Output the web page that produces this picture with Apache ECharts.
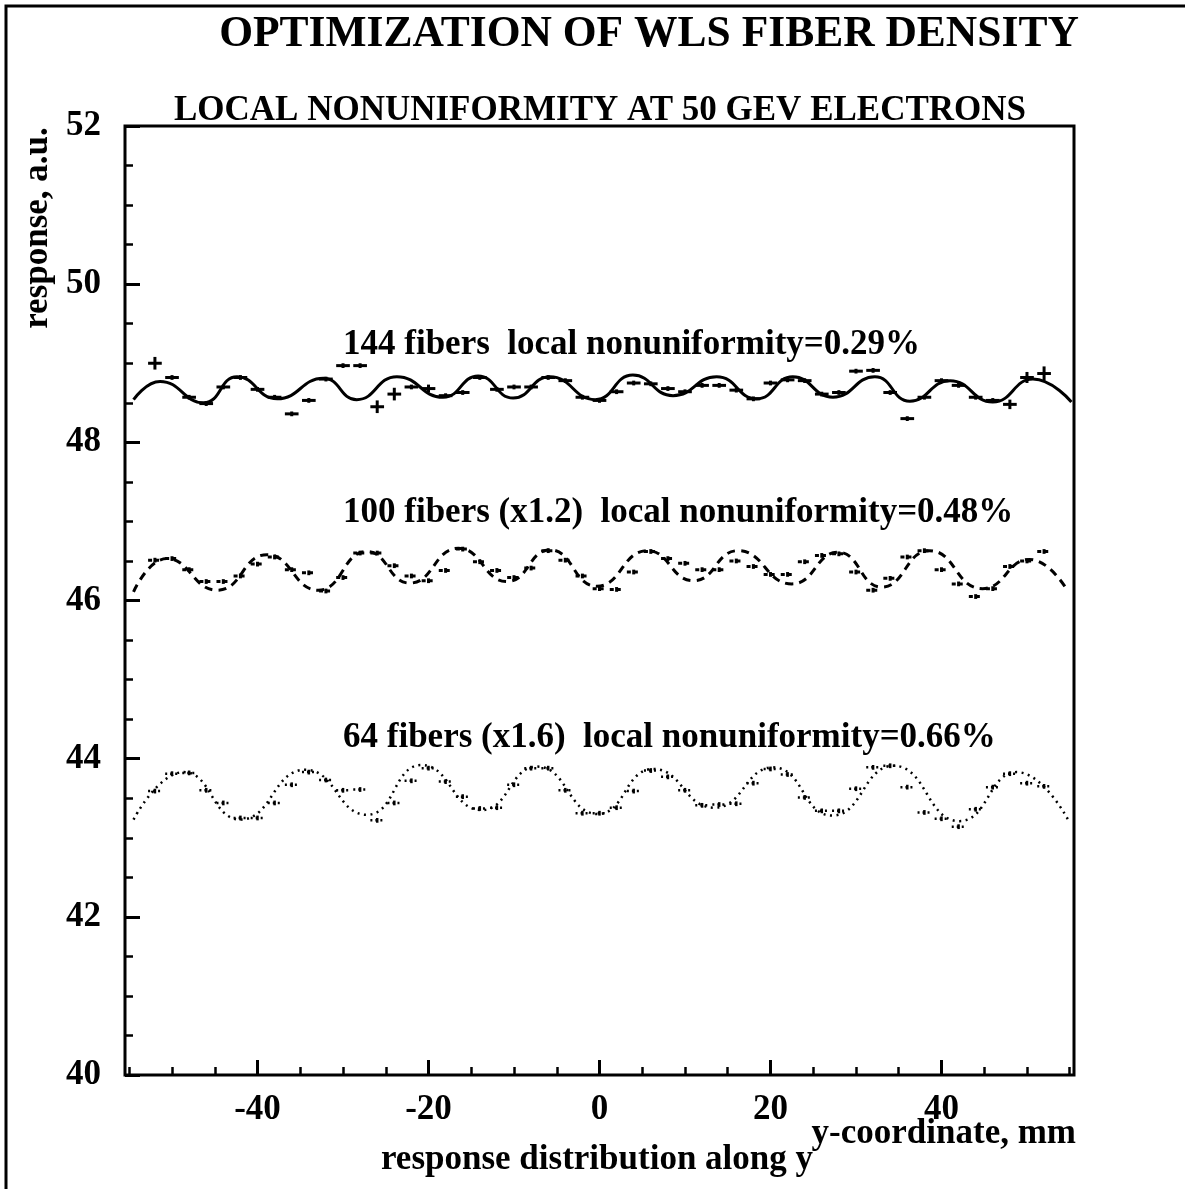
<!DOCTYPE html>
<html>
<head>
<meta charset="utf-8">
<script src="https://cdn.jsdelivr.net/npm/echarts@6/dist/echarts.min.js"></script>
<style>
html,body{margin:0;padding:0;background:#fff;}
#c{width:1185px;height:1189px;}
</style>
</head>
<body>
<div id="c"></div>
<script>
// ---------------- data ----------------
const yCoord = [-52,-50,-48,-46,-44,-42,-40,-38,-36,-34,-32,-30,-28,-26,-24,-22,-20,-18,-16,-14,-12,-10,-8,-6,-4,-2,0,
                 2,4,6,8,10,12,14,16,18,20,22,24,26,28,30,32,34,36,38,40,42,44,46,48,50,52];

const resp144 = [49.00,48.82,48.57,48.49,48.70,48.82,48.67,48.57,48.36,48.53,48.80,48.97,48.97,48.45,48.61,48.70,48.68,48.59,48.63,48.82,48.67,48.70,48.70,48.82,48.78,48.57,48.53,
                 48.64,48.75,48.74,48.68,48.64,48.72,48.72,48.66,48.55,48.75,48.79,48.78,48.61,48.63,48.90,48.91,48.63,48.30,48.57,48.78,48.72,48.57,48.53,48.48,48.82,48.87];
const err144  = [0.08,0.03,0.03,0.03,0.03,0.03,0.03,0.03,0.03,0.03,0.03,0.03,0.03,0.08,0.08,0.03,0.05,0.03,0.03,0.03,0.03,0.03,0.03,0.03,0.03,0.03,0.03,
                 0.03,0.03,0.03,0.03,0.03,0.03,0.03,0.03,0.03,0.03,0.03,0.03,0.03,0.03,0.03,0.03,0.03,0.03,0.03,0.03,0.03,0.03,0.03,0.06,0.07,0.09];

const resp100 = [46.51,46.53,46.39,46.24,46.24,46.31,46.46,46.55,46.39,46.35,46.12,46.29,46.60,46.60,46.44,46.31,46.25,46.38,46.65,46.49,46.38,46.29,46.41,46.63,46.51,46.31,46.15,
                 46.14,46.36,46.62,46.53,46.47,46.39,46.39,46.50,46.43,46.33,46.33,46.49,46.57,46.59,46.36,46.13,46.28,46.55,46.63,46.39,46.21,46.05,46.15,46.43,46.50,46.62];
const err100 = 0.03;

const resp64 = [43.59,43.81,43.82,43.60,43.44,43.25,43.25,43.44,43.67,43.83,43.73,43.60,43.61,43.22,43.44,43.72,43.88,43.71,43.52,43.37,43.38,43.67,43.88,43.88,43.60,43.31,43.31,
                43.38,43.59,43.85,43.77,43.60,43.41,43.42,43.43,43.69,43.87,43.80,43.51,43.34,43.34,43.62,43.89,43.91,43.64,43.32,43.24,43.14,43.36,43.64,43.81,43.69,43.65];
const err64 = 0.03;

// fitted curves (read at extrema)
const fit144X = [-54.5,-51.4,-46.3,-42.4,-37.7,-32.3,-28.4,-23.7,-18.3,-14.2,-10.1,-5.8,-0.5,3.9,8.6,13.7,18.4,22.6,27.3,32.2,36.3,41.0,46.0,50.7,55.2];
const fit144Y = [48.54,48.77,48.50,48.83,48.55,48.81,48.54,48.83,48.57,48.84,48.56,48.83,48.54,48.85,48.59,48.83,48.55,48.83,48.57,48.83,48.52,48.78,48.51,48.80,48.51];

const fit100X = [-54.5,-50.6,-44.7,-38.9,-32.9,-27.2,-22.2,-16.5,-10.8,-5.8,-0.3,5.6,11.0,16.2,22.5,27.9,33.0,38.6,44.8,50.3,54.6];
const fit100Y = [46.11,46.53,46.13,46.58,46.13,46.62,46.22,46.66,46.24,46.64,46.18,46.63,46.25,46.63,46.21,46.61,46.17,46.63,46.15,46.52,46.15];

const fit64X = [-54.5,-48.6,-42.0,-34.4,-27.2,-20.8,-13.8,-7.3,-0.2,6.3,13.4,20.3,27.2,34.4,42.1,48.8,54.9];
const fit64Y = [43.23,43.83,43.23,43.86,43.29,43.92,43.35,43.90,43.30,43.87,43.38,43.89,43.28,43.91,43.21,43.83,43.21];

const binHalfWidth = 0.8;   // mm

// axes
const xMin = -55.5, xMax = 55.5;
const xMajorTicks = [-40,-20,0,20,40];
const xMinorTicks = [-55,-50,-45,-40,-35,-30,-25,-20,-15,-10,-5,0,5,10,15,20,25,30,35,40,45,50,55];
const yMin = 40, yMax = 52, yStep = 2;

// texts
const titleText = 'OPTIMIZATION OF WLS FIBER DENSITY';
const subtitleText = 'LOCAL NONUNIFORMITY AT 50 GEV ELECTRONS';
const xAxisTitle = 'y-coordinate, mm';
const xAxisSub = 'response distribution along y';
const yAxisTitle = 'response, a.u.';
const label144 = '144 fibers  local nonuniformity=0.29%';
const label100 = '100 fibers (x1.2)  local nonuniformity=0.48%';
const label64  = '64 fibers (x1.6)  local nonuniformity=0.66%';

// ---------------- chart ----------------
const FONT = '"Liberation Serif", "Times New Roman", Times, serif';
const chart = echarts.init(document.getElementById('c'), null, {renderer: 'canvas'});

function zip(xs, ys) { return xs.map((x, i) => [x, ys[i]]); }
function pts(xs, ys, es) { return xs.map((x, i) => [x, ys[i], Array.isArray(es) ? es[i] : es]); }

function barRenderer(dash, lw) {
  return function (params, api) {
    const x = api.value(0), y = api.value(1), e = api.value(2);
    const l = api.coord([x - binHalfWidth, y]);
    const r = api.coord([x + binHalfWidth, y]);
    const t = api.coord([x, y + e]);
    const b = api.coord([x, y - e]);
    const hs = {stroke: '#000', lineWidth: lw, fill: null};
    const vs = {stroke: '#000', lineWidth: lw, fill: null};
    if (dash) { hs.lineDash = dash; }
    return {
      type: 'group',
      children: [
        {type: 'line', shape: {x1: l[0], y1: l[1], x2: r[0], y2: r[1]}, style: hs},
        {type: 'line', shape: {x1: t[0], y1: t[1], x2: b[0], y2: b[1]}, style: vs}
      ]
    };
  };
}

function txt(text, x, y, size, align, extra) {
  return Object.assign({
    type: 'text', x: x, y: y, silent: true, z: 10,
    style: {text: text, fill: '#000', font: 'bold ' + size + 'px ' + FONT, align: align, verticalAlign: 'middle'}
  }, extra || {});
}

const option = {
  animation: false,
  backgroundColor: '#fff',
  grid: {left: 125, right: 111, top: 126, bottom: 114, show: true, borderColor: '#000', borderWidth: 3, backgroundColor: 'transparent'},
  xAxis: [
    {
      type: 'value', min: xMin, max: xMax, position: 'bottom',
      axisLine: {show: false, onZero: false},
      splitLine: {show: false},
      axisTick: {show: true, inside: true, length: 15, customValues: xMajorTicks, lineStyle: {color: '#000', width: 3}},
      axisLabel: {show: true, customValues: xMajorTicks, margin: 17, color: '#000', fontSize: 35, fontWeight: 'bold', fontFamily: FONT}
    },
    {
      type: 'value', min: xMin, max: xMax, position: 'bottom',
      axisLine: {show: false, onZero: false},
      splitLine: {show: false},
      axisTick: {show: true, inside: true, length: 8, customValues: xMinorTicks, lineStyle: {color: '#000', width: 2.5}},
      axisLabel: {show: false}
    }
  ],
  yAxis: [
    {
      type: 'value', min: yMin, max: yMax, interval: yStep, position: 'left',
      axisLine: {show: false, onZero: false},
      splitLine: {show: false},
      axisTick: {show: true, inside: true, length: 15, lineStyle: {color: '#000', width: 3}},
      minorTick: {show: true, splitNumber: 4, length: 8, lineStyle: {color: '#000', width: 2.5}},
      axisLabel: {margin: 24, color: '#000', fontSize: 35, fontWeight: 'bold', fontFamily: FONT}
    }
  ],
  series: [
    {type: 'line', data: zip(fit144X, fit144Y), smooth: 0.5, showSymbol: false, silent: true,
     lineStyle: {color: '#000', width: 3, type: 'solid'}},
    {type: 'custom', data: pts(yCoord, resp144, err144), encode: {x: 0, y: 1}, renderItem: barRenderer(null, 3), silent: true},

    {type: 'line', data: zip(fit100X, fit100Y), smooth: 0.5, showSymbol: false, silent: true,
     lineStyle: {color: '#000', width: 3, type: [8, 6]}},
    {type: 'custom', data: pts(yCoord, resp100, err100), encode: {x: 0, y: 1}, renderItem: barRenderer([4, 3], 3), silent: true},

    {type: 'line', data: zip(fit64X, fit64Y), smooth: 0.5, showSymbol: false, silent: true,
     lineStyle: {color: '#000', width: 2.5, type: [2, 4.5]}},
    {type: 'custom', data: pts(yCoord, resp64, err64), encode: {x: 0, y: 1}, renderItem: barRenderer([2, 3], 2.5), silent: true}
  ],
  graphic: [
    {type: 'rect', silent: true, shape: {x: 6, y: 6, width: 1200, height: 1200}, style: {fill: null, stroke: '#000', lineWidth: 3}},
    txt(titleText, 649, 35, 43.5, 'center'),
    txt(subtitleText, 600, 111, 35, 'center'),
    txt(label144, 343, 345, 35, 'left'),
    txt(label100, 343, 513, 35, 'left'),
    txt(label64, 343, 738, 35, 'left'),
    txt(xAxisTitle, 1076, 1134, 35, 'right'),
    txt(xAxisSub, 597, 1160, 35, 'center'),
    txt(yAxisTitle, 38, 228, 35, 'center', {rotation: Math.PI / 2})
  ]
};
chart.setOption(option);
</script>
</body>
</html>
